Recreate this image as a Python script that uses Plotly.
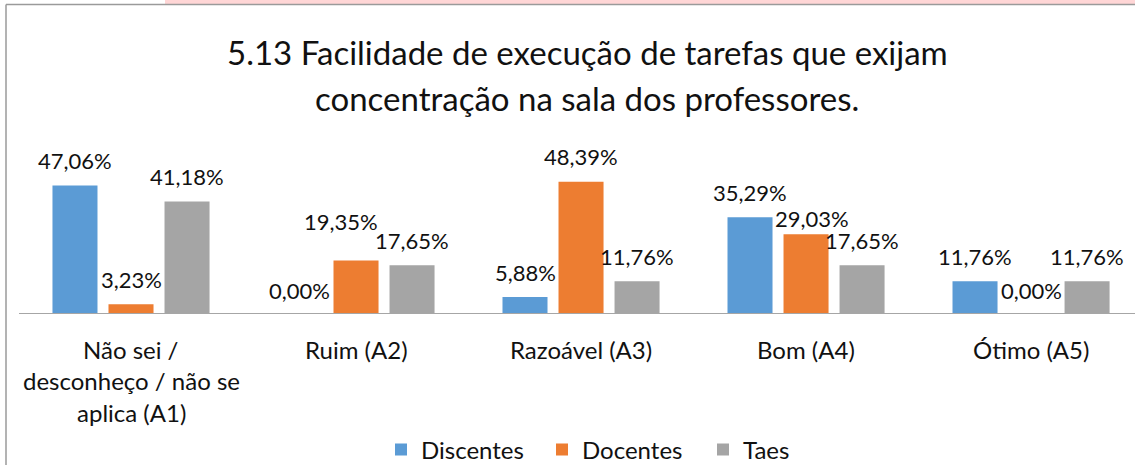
import plotly.graph_objects as go

# Survey item 5.13 — share of answers per rating, by respondent group
categories = ["Não sei /\ndesconheço / não se\naplica (A1)", "Ruim (A2)", "Razoável (A3)", "Bom (A4)", "Ótimo (A5)"]
series_names = ["Discentes", "Docentes", "Taes"]
discentes = [47.06, 0.00, 5.88, 35.29, 11.76]
docentes = [3.23, 19.35, 48.39, 29.03, 0.00]
taes = [41.18, 17.65, 11.76, 17.65, 11.76]
title_lines = ["5.13 Facilidade de execução de tarefas que exijam",
               "concentração na sala dos professores."]

values = [discentes, docentes, taes]
colors = ["#5B9BD5", "#ED7D31", "#A5A5A5"]

W, H = 1135, 465
FONT = "Lato"
TXT = "#111111"

# plot-area geometry (pixels from the top-left of the page)
plot_left, plot_top, plot_bottom = 18.5, 140, 313
px_per_pct = 2.71
bargap = 0.253
slot = (1 - bargap) / 3

def fx(px):
    return px / W

def fy(py):
    return 1 - py / H

fig = go.Figure()
x_idx = list(range(len(categories)))
for name, vals, col in zip(series_names, values, colors):
    fig.add_trace(go.Bar(
        x=x_idx, y=vals, name=name, marker_color=col,
        marker_line_width=0, hoverinfo="skip",
    ))

# data labels above each bar; a few are nudged like the spreadsheet's layout
nudges = {(1, 1): (-15, 39), (1, 3): (6, 16)}
annotations = []
for k, vals in enumerate(values):
    for i, v in enumerate(vals):
        dx, dy = nudges.get((k, i), (0, 23 if v == 0 else 25))
        annotations.append(dict(
            x=i + (k - 1) * slot, y=v, xref="x", yref="y",
            text=f"{v:.2f}%".replace(".", ","), showarrow=False,
            xshift=dx, yshift=dy, yanchor="middle", xanchor="center",
            font=dict(family=FONT, size=22, color=TXT),
        ))

# category labels, one annotation per text line
for i, lab in enumerate(categories):
    for j, line in enumerate(lab.split("\n")):
        annotations.append(dict(
            x=i, y=fy(349 + 31.5 * j), xref="x", yref="paper",
            text=line, showarrow=False, yanchor="middle", xanchor="center",
            font=dict(family=FONT, size=24, color=TXT),
        ))

# two-line title
for j, line in enumerate(title_lines):
    annotations.append(dict(
        x=fx(587), y=fy(52 + 46 * j), xref="paper", yref="paper",
        text=line, showarrow=False, yanchor="middle", xanchor="center",
        font=dict(family=FONT, size=33, color=TXT),
    ))

shapes = [
    # strip of the worksheet row above the chart
    dict(type="rect", xref="paper", yref="paper", x0=fx(165), x1=1, y0=fy(4), y1=1,
         fillcolor="#FFD6D6", line_width=0, layer="below"),
    # chart frame
    dict(type="line", xref="paper", yref="paper", x0=fx(6), x1=1, y0=fy(4.5), y1=fy(4.5),
         line=dict(color="#9a9a9a", width=1.5)),
    dict(type="line", xref="paper", yref="paper", x0=fx(6), x1=fx(6), y0=0, y1=fy(4.5),
         line=dict(color="#9a9a9a", width=1.5)),
]

fig.update_layout(
    width=W, height=H,
    margin=dict(l=0, r=0, t=0, b=0, autoexpand=False),
    paper_bgcolor="white", plot_bgcolor="white",
    barmode="group", bargap=bargap, bargroupgap=(56 - 45) / 56,
    xaxis=dict(
        domain=[fx(plot_left), 1], range=[-0.5, 4.462],
        showticklabels=False, ticks="", showgrid=False, zeroline=False,
        showline=True, linecolor="#a6a6a6", linewidth=1.2,
    ),
    yaxis=dict(
        domain=[fy(plot_bottom), fy(plot_top)],
        range=[0, (plot_bottom - plot_top) / px_per_pct],
        visible=False, showgrid=False, zeroline=False,
    ),
    legend=dict(
        orientation="h", x=fx(381), xanchor="left", y=fy(450), yanchor="middle",
        font=dict(family=FONT, size=24, color=TXT), bgcolor="rgba(0,0,0,0)",
        itemwidth=30, entrywidth=116, entrywidthmode="pixels",
    ),
    annotations=annotations,
    shapes=shapes,
    showlegend=True,
)

fig.write_html("out.html")
